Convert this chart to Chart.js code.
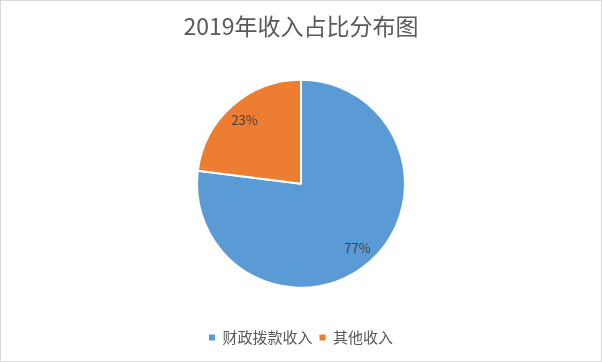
<!DOCTYPE html>
<html lang="zh">
<head>
  <meta charset="UTF-8">
  <title>2019年收入占比分布图</title>
  <style>
    body {
      margin: 0;
      background: #ffffff;
    }

    .box {
      width: 600px;
      height: 360px;
      border: 1px solid #d9d9d9;
      background: #ffffff;
    }
  </style>
  <script src="https://cdn.jsdelivr.net/npm/chart.js"></script>
</head>
<body>
  <div class="box">
    <canvas id="pieChart" width="600" height="360"></canvas>
  </div>

  <script>
    // chart data
    const categories = ['财政拨款收入', '其他收入'];
    const shares = [77, 23];
    const colors = ['#5B9BD5', '#ED7D31'];

    const font = '"Noto Sans CJK SC", "Noto Sans", sans-serif';

    // percent labels inside the slices
    const sliceLabels = {
      id: 'sliceLabels',
      afterDatasetsDraw(chart) {
        const ctx = chart.ctx;
        const meta = chart.getDatasetMeta(0);
        const total = shares.reduce((a, b) => a + b, 0);
        ctx.save();
        ctx.font = '13px ' + font;
        ctx.fillStyle = '#404040';
        ctx.textAlign = 'center';
        ctx.textBaseline = 'middle';
        meta.data.forEach((arc, i) => {
          const p = arc.getProps(['x', 'y', 'startAngle', 'endAngle', 'outerRadius'], true);
          const mid = (p.startAngle + p.endAngle) / 2;
          const r = p.outerRadius * 0.82;
          const pct = Math.round(shares[i] / total * 100) + '%';
          ctx.fillText(pct, p.x + Math.cos(mid) * r, p.y + Math.sin(mid) * r);
        });
        ctx.restore();
      }
    };

    new Chart(document.getElementById('pieChart').getContext('2d'), {
      type: 'pie',
      data: {
        labels: categories,
        datasets: [{
          data: shares,
          backgroundColor: colors,
          borderColor: '#ffffff',
          borderWidth: 2
        }]
      },
      options: {
        responsive: false,
        animation: false,
        radius: 104,
        layout: { padding: { top: 0, bottom: 6 } },
        plugins: {
          title: {
            display: true,
            text: '2019年收入占比分布图',
            color: '#595959',
            font: { family: font, size: 23, weight: 'normal' },
            padding: { top: 11, bottom: 5 }
          },
          legend: {
            position: 'bottom',
            labels: {
              color: '#595959',
              font: { family: font, size: 15 },
              boxWidth: 6,
              boxHeight: 6,
              padding: 7,
              generateLabels(chart) {
                const items = Chart.controllers.pie.overrides.plugins.legend.labels.generateLabels(chart);
                items.forEach(it => { it.lineWidth = 0; });
                return items;
              }
            }
          },
          tooltip: { enabled: false }
        }
      },
      plugins: [sliceLabels]
    });
  </script>
</body>
</html>
